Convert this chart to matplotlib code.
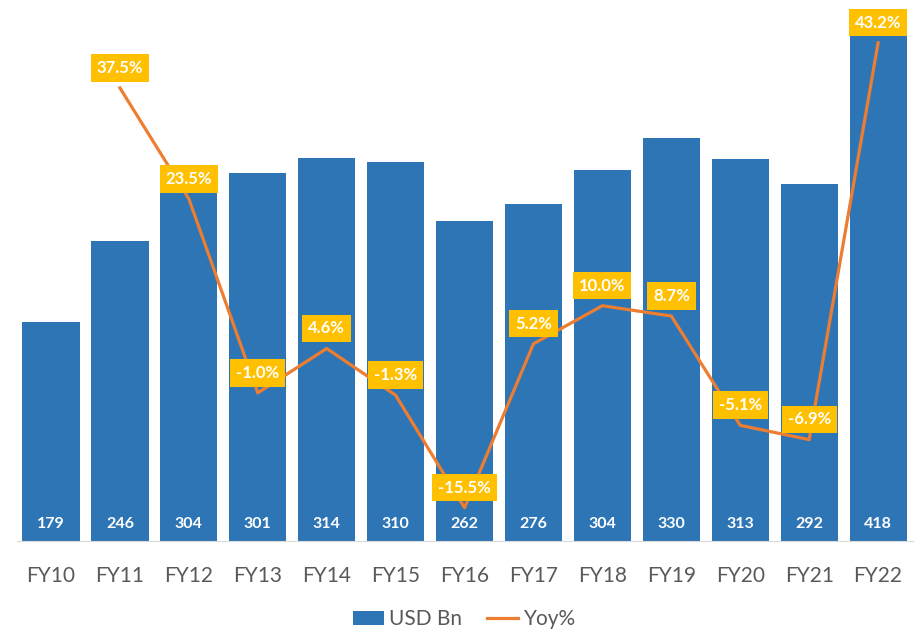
import matplotlib
matplotlib.use("Agg")
import matplotlib.pyplot as plt
from matplotlib.patches import Patch
from matplotlib.lines import Line2D

plt.rcParams['font.family'] = ['Lato', 'DejaVu Sans']

categories = ["FY10", "FY11", "FY12", "FY13", "FY14", "FY15", "FY16",
              "FY17", "FY18", "FY19", "FY20", "FY21", "FY22"]
usd_bn = [179, 246, 304, 301, 314, 310, 262, 276, 304, 330, 313, 292, 418]
yoy_cats = categories[1:]
yoy_pct = [37.5, 23.5, -1.0, 4.6, -1.3, -15.5, 5.2, 10.0, 8.7, -5.1, -6.9, 43.2]

BAR = "#2E75B6"
LINE = "#ED7D31"
LBL = "#FFC000"

fig = plt.figure(figsize=(9.19, 6.32), dpi=100)
ax = fig.add_axes([0.018, 0.144, 0.975, 0.856])
x = list(range(len(categories)))
ax.bar(x, usd_bn, width=0.83, color=BAR, zorder=2)
ax.set_xlim(-0.5, len(categories) - 0.5)
ax.set_ylim(0, 443)
ax.set_yticks([])
for s in ["top", "right", "left"]:
    ax.spines[s].set_visible(False)
ax.spines["bottom"].set_color("#D9D9D9")
ax.set_xticks(x)
ax.set_xticklabels(categories, fontsize=15, color="#595959")
ax.tick_params(axis="x", length=0, pad=18)
for xi, v in zip(x, usd_bn):
    ax.annotate(str(v), (xi, 0), xytext=(0, 12.5), textcoords="offset points",
                ha="center", va="center", color="white", fontweight="bold",
                fontsize=11.5, zorder=3)

ax2 = ax.twinx()
ax2.set_ylim(-19.7, 48.6)
ax2.axis("off")
xl = [categories.index(c) for c in yoy_cats]
ax2.plot(xl, yoy_pct, color=LINE, lw=2.3, zorder=3)
for xi, v in zip(xl, yoy_pct):
    ax2.annotate(f"{v:.1f}%", (xi, v), xytext=(0, 14.5), textcoords="offset points",
                 ha="center", va="center", color="white", fontweight="bold",
                 fontsize=12, zorder=4,
                 bbox=dict(boxstyle="square,pad=0.35", fc=LBL, ec="none"))

handles = [Patch(facecolor=BAR, edgecolor="none", label="USD Bn"),
           Line2D([0], [0], color=LINE, lw=2.3, label="Yoy%")]
fig.legend(handles=handles, loc="center", bbox_to_anchor=(0.505, 0.02), ncol=2,
           frameon=False, fontsize=15, labelcolor="#595959",
           handlelength=1.5, handletextpad=0.25, columnspacing=1.2)

fig.savefig("out.png", dpi=100)
